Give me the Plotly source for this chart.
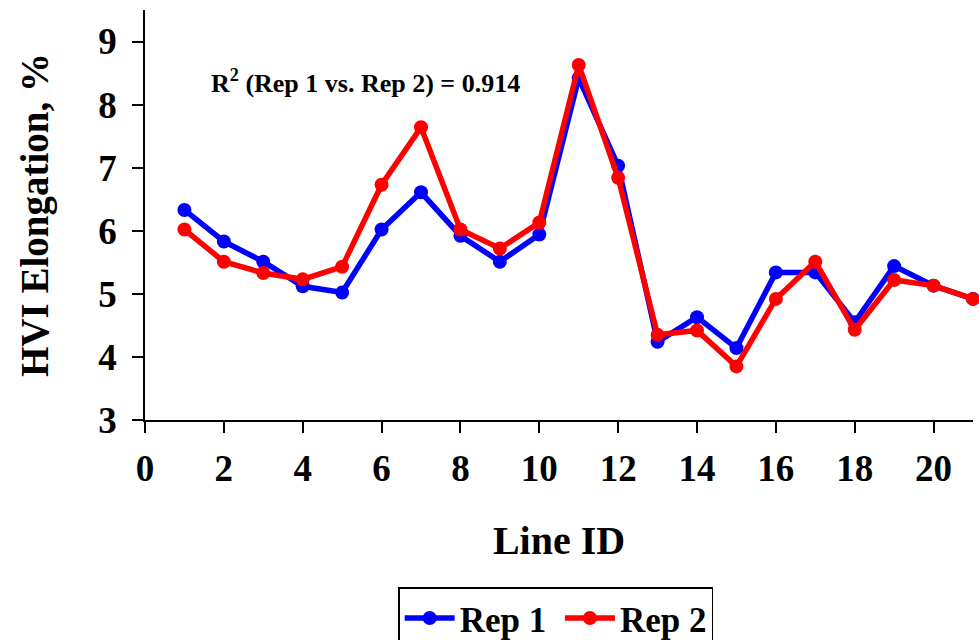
import plotly.graph_objects as go

line_id = list(range(1, 22))
rep1 = [6.33, 5.83, 5.51, 5.12, 5.02, 6.02, 6.61, 5.92, 5.51, 5.94,
        8.42, 7.03, 4.24, 4.63, 4.14, 5.34, 5.34, 4.55, 5.44, 5.13, 4.92]
rep2 = [6.02, 5.51, 5.33, 5.23, 5.43, 6.73, 7.64, 6.02, 5.72, 6.13,
        8.63, 6.84, 4.35, 4.42, 3.85, 4.92, 5.51, 4.43, 5.22, 5.13, 4.92]
x_ticks = list(range(0, 21, 2))
y_ticks = list(range(3, 10))

FONT = "Liberation Serif, Times New Roman, serif"

fig = go.Figure()
fig.add_trace(go.Scatter(x=line_id, y=rep1, mode="lines+markers", name="<b>Rep 1</b>\u00a0",
                         line=dict(color="#0000FF", width=5.5),
                         marker=dict(color="#0000FF", size=14), cliponaxis=False))
fig.add_trace(go.Scatter(x=line_id, y=rep2, mode="lines+markers", name="<b>Rep 2</b>",
                         line=dict(color="#FF0000", width=5.5),
                         marker=dict(color="#FF0000", size=14), cliponaxis=False))

fig.add_annotation(text="<b>R<sup>2</sup> (Rep 1 vs. Rep 2) = 0.914</b>",
                   x=5.6, y=8.37, xref="x", yref="y", showarrow=False,
                   font=dict(family=FONT, size=26, color="black"))

fig.update_layout(
    width=979, height=640,
    margin=dict(l=145, r=6, t=10, b=220, autoexpand=False),
    paper_bgcolor="white", plot_bgcolor="white",
    font=dict(family=FONT, color="black"),
    showlegend=True,
    legend=dict(orientation="h", x=0.496, xanchor="center", y=-0.408, yanchor="top",
                bordercolor="black", borderwidth=1.5, bgcolor="white",
                font=dict(family=FONT, size=35, color="black"),
                itemwidth=50, tracegroupgap=0),
)
fig.update_xaxes(range=[0, 21], tickvals=x_ticks, ticktext=[f"<b>{v}</b>" for v in x_ticks],
                 showgrid=False, zeroline=False, showline=True, linecolor="black", linewidth=1.5,
                 ticks="outside", ticklen=11, tickwidth=1.5, tickcolor="black",
                 ticklabelstandoff=4,
                 tickfont=dict(family=FONT, size=37, color="black"),
                 title=dict(text="<b>Line ID</b>", font=dict(family=FONT, size=40, color="black"), standoff=38),
                 automargin=False)
fig.update_yaxes(range=[3, 9.5], tickvals=y_ticks, ticktext=[f"<b>{v}</b>" for v in y_ticks],
                 showgrid=False, zeroline=False, showline=True, linecolor="black", linewidth=1.5,
                 ticks="outside", ticklen=11, tickwidth=1.5, tickcolor="black",
                 ticklabelstandoff=8,
                 tickfont=dict(family=FONT, size=37, color="black"),
                 title=dict(text="<b>HVI Elongation, %</b>", font=dict(family=FONT, size=39, color="black"), standoff=38),
                 automargin=False)

fig.write_html("out.html", config={"displayModeBar": False},
               post_script="document.body.style.margin='0';document.body.style.overflow='hidden';")
